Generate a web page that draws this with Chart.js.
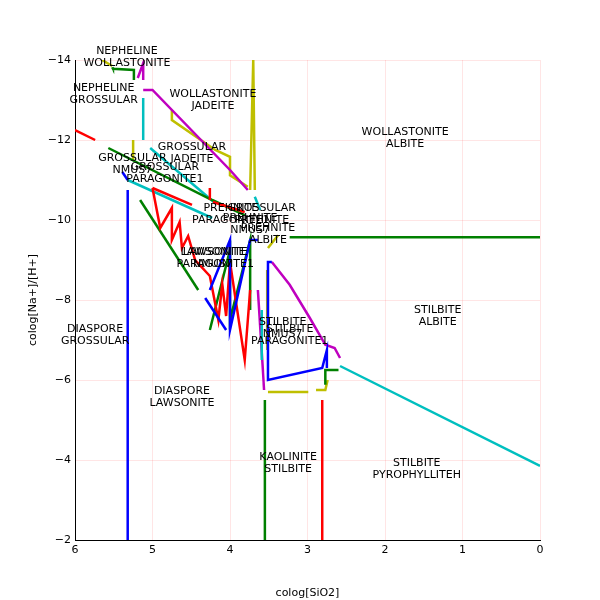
<!DOCTYPE html>
<html>
<head>
<meta charset="utf-8">
<script src="https://cdn.jsdelivr.net/npm/chart.js@4.4.0/dist/chart.umd.min.js"></script>
<style>
  body { margin: 0; background: #fff; }
  #wrap { width: 600px; height: 600px; }
</style>
</head>
<body>
<div id="wrap"><canvas id="c" width="600" height="600"></canvas></div>
<script>
// phase boundaries, [colog SiO2, colog Na+/H+]
var blueLines = [
    [[5.32, -2], [5.32, -10.75]],
    [[5.39, -11.2], [5.32, -11.0]],
    [[4.32, -8.05], [4.05, -7.25]],
    [[4.26, -8.25], [4.0, -9.5], [4.0, -7.25], [3.74, -9.5], [3.64, -9.5]],
    [[3.46, -8.95], [3.51, -8.95], [3.51, -6.0], [2.81, -6.3], [2.75, -6.75], [2.75, -6.3]]
];
var redLines = [
    [[6, -12.25], [5.74, -12.0]],
    [[5.0, -10.8], [4.49, -10.38]],
    [[5.0, -10.8], [4.9, -9.8], [4.75, -10.3], [4.75, -9.5], [4.65, -9.95], [4.62, -9.3], [4.54, -9.6],
     [4.45, -9.0], [4.26, -8.6], [4.15, -7.5], [4.1, -8.4], [4.05, -7.6], [4.0, -8.95], [3.81, -6.5], [3.74, -8.25]],
    [[2.81, -2], [2.81, -5.5]],
    [[4.26, -10.8], [4.26, -10.5]],
    [[4.22, -10.45], [3.81, -10.2]]
];
var greenLines = [
    [[5.52, -13.82], [5.51, -13.78], [5.24, -13.75], [5.24, -13.5]],
    [[5.57, -11.8], [4.23, -10.5], [3.81, -10.12]],
    [[5.16, -10.5], [4.41, -8.25]],
    [[3.23, -9.57], [0, -9.57]],
    [[3.55, -2], [3.55, -5.5]],
    [[4.26, -7.25], [4.0, -9.25], [4.0, -7.5], [3.74, -9.5], [3.74, -7.75]],
    [[2.6, -6.25], [2.77, -6.25], [2.77, -5.88]]
];
var cyanLines = [
    [[5.12, -13.05], [5.12, -12.0]],
    [[5.03, -11.8], [4.19, -10.42]],
    [[5.32, -11.0], [4.23, -10.05]],
    [[2.58, -6.35], [0, -3.85]],
    [[3.59, -7.75], [3.59, -6.5]],
    [[3.68, -10.58], [3.61, -10.25]]
];
var magentaLines = [
    [[5.19, -13.55], [5.12, -13.92], [5.12, -13.5]],
    [[5.12, -13.25], [5.0, -13.25], [4.0, -11.25], [3.77, -10.75]],
    [[3.64, -8.25], [3.56, -5.75]],
    [[3.46, -8.95], [3.23, -8.38], [2.97, -7.55], [2.77, -6.88], [2.65, -6.8], [2.58, -6.55]]
];
var yellowLines = [
    [[5.65, -14], [5.52, -13.85]],
    [[5.25, -12], [5.25, -11.5]],
    [[4.75, -12.75], [4.75, -12.5], [4.19, -11.75], [4.0, -11.58], [4.0, -11.12], [3.77, -10.83]],
    [[3.74, -10.75], [3.7, -14], [3.68, -10.75]],
    [[3.51, -9.3], [3.38, -9.62]],
    [[3.52, -8.75], [3.52, -6.75]],
    [[3.51, -5.7], [2.99, -5.7]],
    [[2.89, -5.75], [2.77, -5.75], [2.74, -6.0]]
];
var fieldLabels = [
    ['NEPHELINE', 'WOLLASTONITE', 5.33, -14.08],
    ['NEPHELINE', 'GROSSULAR', 5.63, -13.15],
    ['WOLLASTONITE', 'JADEITE', 4.22, -13.0],
    ['WOLLASTONITE', 'ALBITE', 1.74, -12.05],
    ['GROSSULAR', 'JADEITE', 4.49, -11.68],
    ['GROSSULAR', 'NMUS7', 5.26, -11.4],
    ['GROSSULAR', 'PARAGONITE1', 4.84, -11.18],
    ['PREHNITE', 'PARAGONITE1', 3.99, -10.15],
    ['GROSSULAR', 'PREHNITE', 3.59, -10.15],
    ['PREHNITE', 'NMUS7', 3.74, -9.9],
    ['PREHNITE', 'ALBITE', 3.51, -9.65],
    ['LAWSONITE', 'NMUS7', 4.22, -9.05],
    ['LAWSONITE', 'PARAGONITE1', 4.19, -9.05],
    ['DIASPORE', 'GROSSULAR', 5.74, -7.12],
    ['DIASPORE', 'LAWSONITE', 4.62, -5.58],
    ['STILBITE', 'NMUS7', 3.32, -7.3],
    ['STILBITE', 'PARAGONITE1', 3.23, -7.12],
    ['STILBITE', 'ALBITE', 1.32, -7.6],
    ['KAOLINITE', 'STILBITE', 3.25, -3.92],
    ['STILBITE', 'PYROPHYLLITEH', 1.59, -3.78]
];

var datasets = [];
function addLines(lines, color) {
    lines.forEach(function (l) {
        datasets.push({
            data: l.map(function (p) { return { x: p[0], y: p[1] }; }),
            borderColor: color,
            borderWidth: 2.5,
            pointRadius: 0,
            showLine: true,
            fill: false,
            tension: 0
        });
    });
}
addLines(blueLines, '#0000ff');
addLines(redLines, '#ff0000');
addLines(greenLines, '#008000');
addLines(cyanLines, '#00bfbf');
addLines(magentaLines, '#bf00bf');
addLines(yellowLines, '#bfbf00');

var labelPlugin = {
    id: 'fieldLabels',
    afterDatasetsDraw: function (chart) {
        var ctx = chart.ctx, xs = chart.scales.x, ys = chart.scales.y;
        ctx.save();
        ctx.font = '11px "DejaVu Sans"';
        ctx.fillStyle = '#000';
        ctx.textAlign = 'center';
        ctx.textBaseline = 'middle';
        fieldLabels.forEach(function (f) {
            var px = xs.getPixelForValue(f[2]), py = ys.getPixelForValue(f[3]);
            ctx.fillText(f[0], px, py - 6);
            ctx.fillText(f[1], px, py + 6);
        });
        ctx.restore();
    }
};

function minus(v) { return String(v).replace('-', '\u2212'); }

new Chart(document.getElementById('c'), {
    type: 'scatter',
    data: { datasets: datasets },
    options: {
        responsive: false,
        animation: false,
        layout: { padding: { top: 60, right: 60, left: 0, bottom: 0 } },
        plugins: { legend: { display: false }, tooltip: { enabled: false } },
        scales: {
            x: {
                type: 'linear', min: 0, max: 6, reverse: true,
                afterFit: function (s) { s.height = 60; },
                ticks: { stepSize: 1, color: '#000', padding: 4, font: { size: 11, family: 'DejaVu Sans' }, maxRotation: 0 },
                grid: { color: 'rgba(255,0,0,0.1)', drawTicks: false },
                border: { color: '#000', width: 1 },
                title: { display: true, text: 'colog[SiO2]', color: '#000', padding: { top: 27, bottom: 0 }, font: { size: 11, family: 'DejaVu Sans' } }
            },
            y: {
                type: 'linear', min: -14, max: -2, reverse: true,
                afterFit: function (s) { s.width = 75; },
                ticks: { stepSize: 2, color: '#000', padding: 4, font: { size: 11, family: 'DejaVu Sans' }, callback: function (v) { return minus(v); } },
                grid: { color: 'rgba(255,0,0,0.1)', drawTicks: false },
                border: { color: '#000', width: 1 },
                title: { display: true, text: 'colog[Na+]/[H+]', color: '#000', padding: { top: 27, bottom: 0 }, font: { size: 11, family: 'DejaVu Sans' } }
            }
        }
    },
    plugins: [labelPlugin]
});
</script>
</body>
</html>
